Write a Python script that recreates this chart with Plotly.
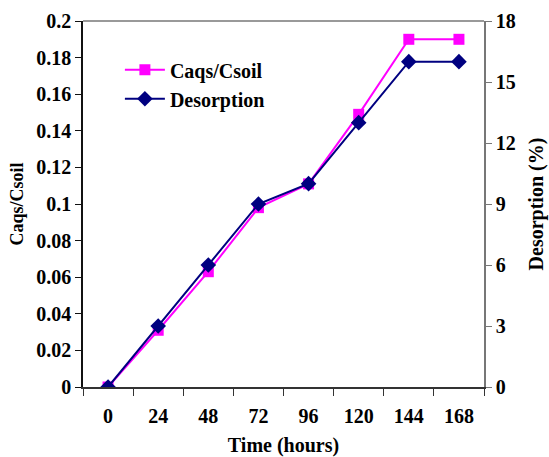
import plotly.graph_objects as go

# Sampling times (hours) and measured series
time_h = ["0", "24", "48", "72", "96", "120", "144", "168"]
caqs_csoil = [0.0, 0.031, 0.063, 0.098, 0.111, 0.149, 0.190, 0.190]
desorption_pct = [0.0, 3.0, 6.0, 9.0, 10.0, 13.0, 16.0, 16.0]

left_ticks = [0, 0.02, 0.04, 0.06, 0.08, 0.1, 0.12, 0.14, 0.16, 0.18, 0.2]
left_ticktext = ["0", "0.02", "0.04", "0.06", "0.08", "0.1", "0.12", "0.14", "0.16", "0.18", "0.2"]
right_ticks = [0, 3, 6, 9, 12, 15, 18]

FONT = "Liberation Serif, Times New Roman, serif"

fig = go.Figure()
fig.add_trace(go.Scatter(
    x=time_h, y=caqs_csoil, name="Caqs/Csoil", mode="lines+markers",
    line=dict(color="#FF00FF", width=2),
    marker=dict(symbol="square", size=11, color="#FF00FF"),
    yaxis="y",
))
fig.add_trace(go.Scatter(
    x=time_h, y=desorption_pct, name="Desorption", mode="lines+markers",
    line=dict(color="#000080", width=2),
    marker=dict(symbol="diamond", size=12, color="#000080"),
    yaxis="y2",
))

fig.update_layout(
    width=549, height=457,
    margin=dict(l=83, r=65, t=21, b=70),
    paper_bgcolor="white", plot_bgcolor="white",
    font=dict(family=FONT, size=20, color="black", weight="bold"),
    showlegend=True,
    legend=dict(x=0.092, y=0.92, xanchor="left", yanchor="top",
                bgcolor="rgba(0,0,0,0)", font=dict(size=20),
                tracegroupgap=0, itemwidth=40),
    xaxis=dict(
        type="category", range=[-0.5, 7.5], tickson="boundaries",
        showgrid=False, zeroline=False, automargin=False,
        showline=True, linecolor="#333333", linewidth=1.5,
        ticks="outside", ticklen=7, tickcolor="#333333",
        ticklabelstandoff=10,
        title=dict(text="Time (hours)", font=dict(size=20), standoff=12),
    ),
    yaxis=dict(
        range=[0, 0.2], tickvals=left_ticks, ticktext=left_ticktext,
        showgrid=False, zeroline=False, automargin=False,
        showline=True, linecolor="#111111", linewidth=1.5,
        ticks="outside", ticklen=6, tickcolor="#111111",
        title=dict(text="Caqs/Csoil", font=dict(size=18), standoff=8),
    ),
    yaxis2=dict(
        range=[0, 18], tickvals=right_ticks, overlaying="y", side="right",
        showgrid=False, zeroline=False, automargin=False,
        showline=True, linecolor="#777777", linewidth=1.5,
        ticks="outside", ticklen=6, tickcolor="#777777",
        title=dict(text="Desorption (%)", font=dict(size=20), standoff=14),
    ),
    shapes=[dict(type="line", xref="paper", yref="paper", x0=0, x1=1, y0=1, y1=1,
                 line=dict(color="#777777", width=1.5))],
)

fig.write_html("out.html")
